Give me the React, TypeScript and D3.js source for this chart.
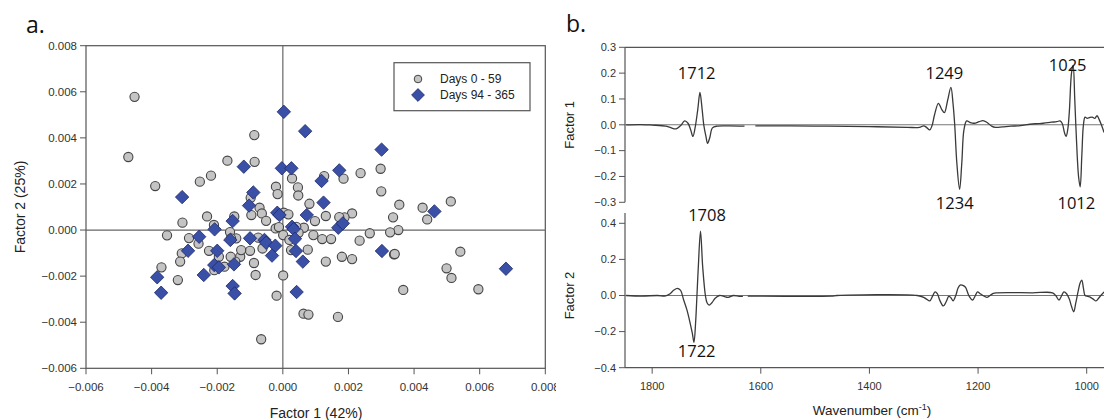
import React from "react";
import * as d3 from "d3";

// ---------- Panel a: scatter data ----------
const scatterXTicks = [-0.006, -0.004, -0.002, 0, 0.002, 0.004, 0.006, 0.008];
const scatterYTicks = [-0.006, -0.004, -0.002, 0, 0.002, 0.004, 0.006, 0.008];
const seriesNames = ["Days 0 - 59", "Days 94 - 365"];

const days0to59: [number, number][] = [
  [-0.00452, 0.00578], [-0.00471, 0.00317], [-0.00389, 0.00191], [-0.00087, 0.00412],
  [-0.00086, 0.00296], [-0.00169, 0.00301], [-0.00219, 0.00236], [-0.00253, 0.0021],
  [-0.00021, 0.00188], [-0.00016, 0.00156], [0.00028, 0.00224], [0.00046, 0.00185],
  [0.00047, 0.0015], [0.00126, 0.00234], [0.00185, 0.00223], [0.00237, 0.00247],
  [0.00298, 0.00266], [0.003, 0.00168], [0.00355, 0.0011], [0.00426, 0.00097],
  [0.0044, 0.00046], [0.00512, 0.00124], [0.00336, 0.00055], [0.00352, 0.0],
  [0.00327, -0.0001], [0.00265, -0.00014], [0.00234, -0.00046], [0.00339, -0.00106],
  [0.00341, -0.00104], [0.00541, -0.00094], [0.00499, -0.00166], [0.00514, -0.00208],
  [0.00596, -0.00257], [0.00367, -0.0026], [0.00211, 0.00072], [0.00188, 0.00055],
  [0.00172, 0.00056], [0.00131, 0.00061], [0.00098, 0.00039], [0.00081, 0.00114],
  [0.00064, 0.0001], [0.00093, -0.00022], [0.0012, -0.00039], [0.00147, -0.00039],
  [0.00076, -0.00085], [0.00131, -0.00137], [0.0018, -0.00116], [0.00211, -0.00126],
  [0.00001, -0.00197], [-0.00019, -0.00285], [0.00063, -0.00363], [0.00078, -0.00367],
  [0.00168, -0.00377], [-0.00066, -0.00474], [-0.00083, -0.00195], [-0.00088, -0.00143],
  [-0.001, -0.0009], [-0.0013, -0.00116], [-0.00127, -0.00087], [-0.00145, -0.00137],
  [-0.00159, -0.00116], [-0.00178, -0.00159], [-0.00195, -0.00116], [-0.00209, -0.00174],
  [-0.00225, -0.0009], [-0.00257, -0.00059], [-0.00286, -0.00035], [-0.00308, -0.00101],
  [-0.00313, -0.00137], [-0.00353, -0.00023], [-0.0037, -0.00162], [-0.0032, -0.00217],
  [-0.00306, 0.00032], [-0.00231, 0.00059], [-0.0021, 0.00022], [-0.00161, -0.00009],
  [-0.00148, 0.00059], [-0.00142, -0.00036], [-0.00158, -0.00036], [-0.00096, 0.00065],
  [-0.00071, 0.00097], [-0.00064, 0.00072], [-0.00051, 0.0004], [-0.00075, -0.00033],
  [-0.00062, -0.0008], [-0.00022, 0.00007], [-0.00012, 0.00013], [0.00003, 0.00075],
  [0.00017, 0.00068], [0.00001, -0.00022], [0.0002, -0.00043], [0.00025, -0.00087],
  [0.00041, 0.00014], [0.00048, -0.00012], [-0.00098, 0.0014],
];

const days94to365: [number, number][] = [
  [0.00003, 0.00513], [0.00068, 0.00429], [0.00301, 0.00349], [-0.00119, 0.00275],
  [-0.00003, 0.00268], [0.00026, 0.00268], [0.00172, 0.00259], [0.00118, 0.00213],
  [-0.0009, 0.00163], [-0.00307, 0.00143], [-0.00103, 0.00106], [0.00124, 0.00119],
  [-0.00017, 0.00075], [-0.0001, 0.00065], [0.00073, 0.00065], [0.00462, 0.00081],
  [-0.00153, 0.00039], [-0.00208, 0.00003], [0.00028, 0.00014], [0.00033, 0.00004],
  [0.00169, 0.0001], [0.00183, 0.00029], [-0.00255, -0.00029], [-0.001, -0.00036],
  [-0.00056, -0.00043], [-0.00051, -0.00055], [0.00037, -0.00038], [-0.0016, -0.00043],
  [-0.00289, -0.0009], [-0.002, -0.0009], [-0.00023, -0.00068], [0.0004, -0.00091],
  [0.00302, -0.00091], [-0.00033, -0.00111], [0.00061, -0.00137], [-0.00149, -0.00149],
  [-0.00209, -0.00152], [-0.00195, -0.00162], [-0.00241, -0.00195], [-0.00383, -0.00205],
  [0.0068, -0.00168], [-0.00153, -0.00243], [-0.00147, -0.00275], [-0.00371, -0.00272],
  [0.00042, -0.00269],
];

// ---------- Panel b: spectra ----------
const wavenumberTicks = [1800, 1600, 1400, 1200, 1000];
const factor1Ticks = [0.3, 0.2, 0.1, 0, -0.1, -0.2, -0.3];
const factor2Ticks = [0.4, 0.2, 0, -0.2, -0.4];

const factor1SegA: [number, number][] = [
  [1848, 0], [1820, 0.001], [1800, -0.001], [1775, -0.005], [1767, -0.01], [1756, -0.016],
  [1748, -0.004], [1740, 0.015], [1734, 0.006], [1729, -0.02], [1725, -0.045], [1721, -0.012],
  [1716, 0.06], [1712, 0.125], [1708, 0.06], [1705, 0.0], [1701, -0.045], [1698, -0.072],
  [1694, -0.05], [1689, -0.012], [1680, -0.005], [1660, -0.004], [1630, -0.005],
];
const factor1SegB: [number, number][] = [
  [1610, -0.004], [1500, -0.005], [1400, -0.007], [1330, -0.01], [1308, -0.01], [1300, -0.004],
  [1295, -0.01], [1289, -0.02], [1285, -0.005], [1280, 0.04], [1273, 0.083], [1267, 0.06],
  [1262, 0.047], [1256, 0.095], [1250, 0.145], [1246, 0.08], [1243, 0.0], [1239, -0.15],
  [1234, -0.25], [1230, -0.15], [1226, -0.02], [1221, 0.015], [1214, 0.008], [1207, 0.006],
  [1198, 0.012], [1191, 0.016], [1184, 0.01], [1175, -0.005], [1168, -0.01], [1155, -0.008],
  [1140, -0.005], [1125, -0.004], [1113, 0.0], [1095, 0.004], [1080, 0.006], [1065, 0.01],
  [1055, 0.012], [1049, 0.015], [1045, 0.005], [1041, -0.03], [1038, -0.045], [1035, -0.02],
  [1032, 0.05], [1028, 0.2], [1025, 0.23], [1022, 0.1], [1019, -0.05], [1015, -0.2],
  [1012, -0.24], [1009, -0.12], [1006, 0.0], [1003, 0.03], [999, 0.025], [995, 0.028],
  [990, 0.03], [985, 0.025], [981, 0.035], [977, 0.02], [973, 0.0], [968, -0.03],
];
const factor2SegA: [number, number][] = [
  [1848, 0], [1820, -0.003], [1790, 0.0], [1775, -0.002], [1767, 0.01], [1760, 0.03],
  [1754, 0.04], [1748, 0.03], [1742, -0.025], [1736, -0.08], [1730, -0.154], [1726, -0.21],
  [1723, -0.26], [1720, -0.15], [1718, -0.03], [1715, 0.16], [1711, 0.357], [1707, 0.16],
  [1702, 0.0], [1699, -0.04], [1695, -0.053], [1690, -0.04], [1684, -0.015], [1676, 0.0],
  [1668, -0.005], [1660, -0.01], [1650, 0.0], [1640, -0.005], [1633, -0.005],
];
const factor2SegB: [number, number][] = [
  [1624, -0.003], [1470, -0.003], [1460, 0.0], [1312, 0.0], [1300, -0.01], [1295, -0.02],
  [1289, -0.03], [1284, -0.005], [1279, 0.02], [1275, 0.01], [1270, -0.03], [1264, -0.058],
  [1258, -0.03], [1254, -0.005], [1250, -0.012], [1246, -0.03], [1241, 0.0], [1237, 0.04],
  [1233, 0.058], [1227, 0.055], [1223, 0.045], [1217, 0.0], [1210, -0.025], [1205, 0.0],
  [1201, 0.02], [1196, 0.01], [1191, 0.0], [1184, -0.01], [1178, 0.0], [1172, 0.012],
  [1165, 0.015], [1100, 0.015], [1063, 0.015], [1057, 0.0], [1051, -0.025], [1046, 0.0],
  [1042, 0.02], [1037, 0.01], [1032, -0.02], [1028, -0.06], [1024, -0.09], [1020, -0.04],
  [1016, 0.02], [1012, 0.07], [1009, 0.085], [1006, 0.04], [1003, 0.0], [998, -0.005],
  [993, -0.01], [988, -0.02], [983, -0.03], [978, -0.015], [974, 0.0], [968, 0.02],
];
const factor1Labels = [
  { text: "1712", wn: 1718, v: 0.2 },
  { text: "1249", wn: 1262, v: 0.2 },
  { text: "1025", wn: 1035, v: 0.232 },
  { text: "1234", wn: 1243, v: -0.303 },
  { text: "1012", wn: 1019, v: -0.303 },
];
const factor2Labels = [
  { text: "1708", wn: 1699, v: 0.446 },
  { text: "1722", wn: 1718, v: -0.311 },
];

const W = 1104;
const H = 420;
const tickFont = "'Liberation Sans', Arial, sans-serif";
const labelFont = "'Open Sans', 'Noto Sans', sans-serif";
const tickColor = "#333";
const axisColor = "#555";

export default function App() {
  // Panel a scales
  const sx = d3.scaleLinear().domain([-0.006, 0.008]).range([86, 545.3]);
  const sy = d3.scaleLinear().domain([-0.006, 0.008]).range([368.3, 45.7]);
  const fmt3 = d3.format(".3f");

  // Panel b scales
  const wx = d3.scaleLinear().domain([1850, 1000]).range([625, 1086.7]);
  const y1 = d3.scaleLinear().domain([-0.3, 0.3]).range([202.3, 47.3]);
  const y2 = d3.scaleLinear().domain([-0.4, 0.4]).range([367.7, 223.3]);
  const line1 = d3.line<[number, number]>().x((d) => wx(d[0])).y((d) => y1(d[1])).curve(d3.curveCatmullRom.alpha(0.5));
  const line2 = d3.line<[number, number]>().x((d) => wx(d[0])).y((d) => y2(d[1])).curve(d3.curveCatmullRom.alpha(0.5));
  const diamond = d3.symbol().type(d3.symbolDiamond2).size(115)();
  const legendDiamond = d3.symbol().type(d3.symbolDiamond2).size(105)();

  const px0 = sx(0);
  const py0 = sy(0);

  return (
    <svg width={W} height={H} style={{ position: "absolute", left: 0, top: 0, background: "#fff" }}>
      <defs>
        <clipPath id="leftClip">
          <rect x={0} y={0} width={556} height={H} />
        </clipPath>
        <clipPath id="rightClip">
          <rect x={625} y={0} width={W - 625} height={H} />
        </clipPath>
      </defs>
      <rect x={0} y={0} width={W} height={H} fill="#fff" />

      {/* ---------- Panel a ---------- */}
      <text x={26} y={33} fontFamily={labelFont} fontSize={23} fill="#111">a.</text>
      <g clipPath="url(#leftClip)">
        <rect x={sx(-0.006)} y={sy(0.008)} width={sx(0.008) - sx(-0.006)} height={sy(-0.006) - sy(0.008)}
          fill="none" stroke={axisColor} strokeWidth={1.2} />
        <line x1={px0} x2={px0} y1={sy(0.008)} y2={sy(-0.006)} stroke="#666" strokeWidth={1.2} />
        <line x1={sx(-0.006)} x2={sx(0.008)} y1={py0} y2={py0} stroke="#666" strokeWidth={1.2} />
        {scatterYTicks.map((t) => (
          <g key={"sy" + t}>
            <line x1={sx(-0.006) - 6} x2={sx(-0.006)} y1={sy(t)} y2={sy(t)} stroke={axisColor} strokeWidth={1} />
            <text x={sx(-0.006) - 9} y={sy(t)} dy="0.35em" textAnchor="end" fontFamily={tickFont} fontSize={11.5} fill={tickColor}>
              {fmt3(t)}
            </text>
          </g>
        ))}
        {scatterXTicks.map((t) => (
          <g key={"sx" + t}>
            <line x1={sx(t)} x2={sx(t)} y1={sy(-0.006)} y2={sy(-0.006) + 6} stroke={axisColor} strokeWidth={1} />
            <text x={sx(t)} y={387} dy="0.35em" textAnchor="middle" fontFamily={tickFont} fontSize={11.5} fill={tickColor}>
              {fmt3(t)}
            </text>
          </g>
        ))}
      </g>
      <text x={316} y={413} dy="0.35em" textAnchor="middle" fontFamily={tickFont} fontSize={14} fill="#222">Factor 1 (42%)</text>
      <text transform={`translate(20,207) rotate(-90)`} dy="0.35em" textAnchor="middle" fontFamily={tickFont} fontSize={14} fill="#222">Factor 2 (25%)</text>

      {days0to59.map((d, i) => (
        <circle key={"c" + i} cx={sx(d[0])} cy={sy(d[1])} r={4.6} fill="#c4c4c4" stroke="#444" strokeWidth={1.1} />
      ))}
      {days94to365.map((d, i) => (
        <path key={"d" + i} d={diamond!} transform={`translate(${sx(d[0])},${sy(d[1])})`} fill="#3a4fa6" stroke="#1e2a6a" strokeWidth={0.8} />
      ))}

      {/* legend */}
      <rect x={394} y={62.7} width={136} height={48} fill="#fff" stroke={axisColor} strokeWidth={1.2} />
      <circle cx={418} cy={79} r={3.8} fill="#c4c4c4" stroke="#444" strokeWidth={1} />
      <path d={legendDiamond!} transform="translate(418,95)" fill="#3a4fa6" stroke="#1e2a6a" strokeWidth={0.8} />
      <text x={440} y={79} dy="0.35em" fontFamily={tickFont} fontSize={12} fill="#222">{seriesNames[0]}</text>
      <text x={440} y={95} dy="0.35em" fontFamily={tickFont} fontSize={12} fill="#222">{seriesNames[1]}</text>

      {/* ---------- Panel b ---------- */}
      <text x={566} y={32} fontFamily={labelFont} fontSize={23} fill="#111">b.</text>

      {/* Factor 1 */}
      <line x1={625} x2={625} y1={y1(0.3)} y2={y1(-0.3)} stroke={axisColor} strokeWidth={1.2} />
      <line x1={625} x2={W} y1={y1(0.3)} y2={y1(0.3)} stroke={axisColor} strokeWidth={1.2} />
      <line x1={625} x2={W} y1={y1(0)} y2={y1(0)} stroke="#777" strokeWidth={1.1} />
      {factor1Ticks.map((t) => (
        <g key={"f1" + t}>
          <line x1={619} x2={625} y1={y1(t)} y2={y1(t)} stroke={axisColor} strokeWidth={1} />
          <text x={616} y={y1(t)} dy="0.35em" textAnchor="end" fontFamily={tickFont} fontSize={11} fill={tickColor}>
            {d3.format(".1f")(t)}
          </text>
        </g>
      ))}
      <text transform={`translate(569,${y1(0)}) rotate(-90)`} dy="0.35em" textAnchor="middle" fontFamily={tickFont} fontSize={13} fill="#222">Factor 1</text>

      {/* Factor 2 */}
      <line x1={625} x2={625} y1={213} y2={y2(-0.4)} stroke={axisColor} strokeWidth={1.2} />
      <line x1={625} x2={W} y1={y2(-0.4)} y2={y2(-0.4)} stroke={axisColor} strokeWidth={1.2} />
      <line x1={625} x2={W} y1={y2(0)} y2={y2(0)} stroke="#777" strokeWidth={1.1} />
      {factor2Ticks.map((t) => (
        <g key={"f2" + t}>
          <line x1={619} x2={625} y1={y2(t)} y2={y2(t)} stroke={axisColor} strokeWidth={1} />
          <text x={616} y={y2(t)} dy="0.35em" textAnchor="end" fontFamily={tickFont} fontSize={11} fill={tickColor}>
            {d3.format(".1f")(t)}
          </text>
        </g>
      ))}
      <text transform={`translate(569,${y2(0)}) rotate(-90)`} dy="0.35em" textAnchor="middle" fontFamily={tickFont} fontSize={13} fill="#222">Factor 2</text>

      {wavenumberTicks.map((t) => (
        <g key={"wx" + t}>
          <line x1={wx(t)} x2={wx(t)} y1={y2(-0.4)} y2={y2(-0.4) + 6} stroke={axisColor} strokeWidth={1} />
          <text x={wx(t)} y={386} dy="0.35em" textAnchor="middle" fontFamily={tickFont} fontSize={11} fill={tickColor}>
            {t}
          </text>
        </g>
      ))}
      <text x={872} y={410} dy="0.35em" textAnchor="middle" fontFamily={tickFont} fontSize={13.5} fill="#222">
        Wavenumber (cm<tspan dy="-5" fontSize={9}>-1</tspan><tspan dy="5">)</tspan>
      </text>

      <g clipPath="url(#rightClip)" fill="none" stroke="#3a3a3a" strokeWidth={1.3}>
        <path d={line1(factor1SegA)!} />
        <path d={line1(factor1SegB)!} />
        <path d={line2(factor2SegA)!} />
        <path d={line2(factor2SegB)!} />
      </g>

      {factor1Labels.map((l) => (
        <text key={"l1" + l.text} x={wx(l.wn)} y={y1(l.v)} dy="0.35em" textAnchor="middle" fontFamily={labelFont} fontSize={16.5} fill="#111">
          {l.text}
        </text>
      ))}
      {factor2Labels.map((l) => (
        <text key={"l2" + l.text} x={wx(l.wn)} y={y2(l.v)} dy="0.35em" textAnchor="middle" fontFamily={labelFont} fontSize={16.5} fill="#111">
          {l.text}
        </text>
      ))}
    </svg>
  );
}
